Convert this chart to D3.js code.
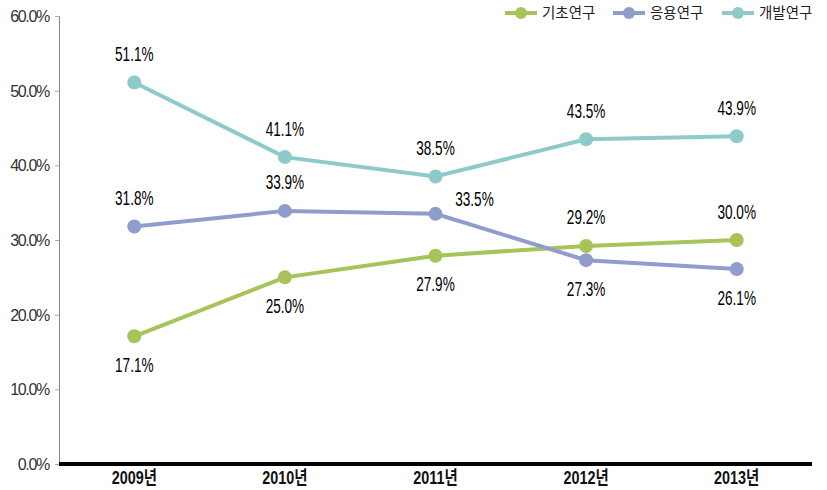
<!DOCTYPE html>
<html><head><meta charset="utf-8">
<script src="https://cdn.jsdelivr.net/npm/d3@7"></script>
<style>
body{margin:0;background:#fff;}
svg{display:block;}
.lbl{font-family:"Liberation Sans",Arial,sans-serif;font-size:20px;fill:#000;}
.ytick{font-family:"Liberation Sans",Arial,sans-serif;font-size:16px;fill:#333;letter-spacing:-1.3px;}
.xtick{font-family:"Liberation Sans","Noto Sans CJK KR",sans-serif;font-size:18px;font-weight:bold;fill:#111;}
.leg{font-family:"Noto Sans CJK KR",sans-serif;font-size:14.5px;fill:#222;}
</style></head><body>
<svg id="c" width="827" height="490"></svg>
<script>
const years = ["2009년","2010년","2011년","2012년","2013년"];
const seriesNames = ["기초연구","응용연구","개발연구"];
const basic = [17.1,25.0,27.9,29.2,30.0];
const applied = [31.8,33.9,33.5,27.3,26.1];
const development = [51.1,41.1,38.5,43.5,43.9];
const yTicks = [0,10,20,30,40,50,60];
const colors = ["#a8c35a","#8f9dcc","#8ecaca"];
// label placement: -1 above, 1 below, "r" right
const basicPos = [1,1,1,-1,-1];
const appliedPos = [-1,-1,"r",1,1];
const devPos = [-1,-1,-1,-1,-1];

(function(){
const svg = d3.select("#c");
const mL = 59, mR = 812, mT = 16, mB = 464;
const x = d3.scaleBand().domain(years).range([mL,mR]);
const y = d3.scaleLinear().domain([0,60]).range([mB,mT]);

const yAxis = svg.append("g").attr("transform",`translate(${mL},0)`)
  .call(d3.axisLeft(y).tickValues(yTicks).tickSize(4).tickFormat(d=>d.toFixed(1)+"%"));
yAxis.select(".domain").attr("stroke","#888");
yAxis.selectAll(".tick line").attr("stroke","#aaa");
yAxis.selectAll(".tick text").attr("class","ytick").attr("x",-10).attr("dy","0.35em");

const xAxis = svg.append("g").attr("transform",`translate(0,${mB})`)
  .call(d3.axisBottom(x).tickSize(0));
xAxis.select(".domain").remove();
xAxis.selectAll(".tick text").attr("class","xtick")
  .attr("y",null).attr("dy",null)
  .attr("transform","translate(0,20) scale(0.8,1)");
svg.append("line").attr("x1",mL).attr("x2",mR).attr("y1",mB).attr("y2",mB)
  .attr("stroke","#000").attr("stroke-width",4);

const data = [basic,applied,development];
const pos = [basicPos,appliedPos,devPos];
const cx = i => x(years[i])+x.bandwidth()/2;
const line = d3.line().x((d,i)=>cx(i)).y(d=>y(d));
data.forEach((s,k)=>{
  const g = svg.append("g");
  g.append("path").datum(s).attr("d",line).attr("fill","none").attr("stroke",colors[k]).attr("stroke-width",4);
  g.selectAll("circle").data(s).join("circle")
    .attr("cx",(d,i)=>cx(i)).attr("cy",d=>y(d)).attr("r",7).attr("fill",colors[k]);
  g.selectAll("text").data(s).join("text").attr("class","lbl")
    .attr("text-anchor","middle")
    .attr("transform",(d,i)=>{
      const tx = cx(i) + (pos[k][i]==="r"?39:0);
      const ty = y(d) + (pos[k][i]==="r"?-15:pos[k][i]*28.5);
      return `translate(${tx},${ty}) scale(0.68,1)`;
    })
    .attr("dy","0.35em")
    .text(d=>d.toFixed(1)+"%");
});

const legX = [505,613,722];
seriesNames.forEach((n,k)=>{
  const g = svg.append("g").attr("transform",`translate(${legX[k]},13)`);
  g.append("line").attr("x1",0).attr("x2",32).attr("stroke",colors[k]).attr("stroke-width",4);
  g.append("circle").attr("cx",16).attr("r",6).attr("fill",colors[k]);
  g.append("text").attr("class","leg").attr("x",37).attr("dy","0.35em").text(n);
});
})();
</script>
</body></html>
